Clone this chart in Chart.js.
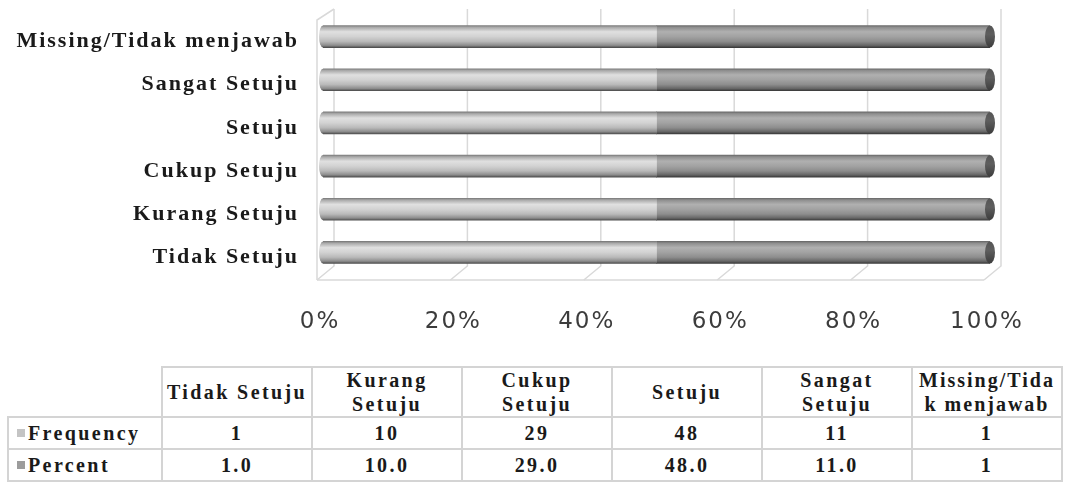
<!DOCTYPE html>
<html>
<head>
<meta charset="utf-8">
<script src="https://cdn.jsdelivr.net/npm/chart.js@4.4.1/dist/chart.umd.min.js"></script>
<style>
  html, body { margin: 0; padding: 0; background: #ffffff; }
  #wrap { position: relative; width: 1065px; height: 485px; overflow: hidden; }
  #c { position: absolute; left: 0; top: 0; }
  #tbl {
    position: absolute; left: 7px; top: 366px;
    border-collapse: collapse; table-layout: fixed;
    font-family: "Liberation Serif", "Times New Roman", serif;
    font-weight: bold; font-size: 20px; letter-spacing: 2.4px; color: #1a1a1a;
  }
  #tbl td { border: 2px solid #d4d4d4; text-align: center; padding: 0 1px; line-height: 24px; white-space: normal; }
  #tbl tr.head td { height: 45px; }
  #tbl tr.row td { height: 30px; }
  #tbl td.corner { border-left-color: transparent; border-top-color: transparent; }
  #tbl td.rowhead { text-align: left; padding-left: 8px; }
  #tbl td.brk { word-break: break-all; letter-spacing: 2px; }
  .key { display: inline-block; width: 8px; height: 8px; margin-right: 3px; vertical-align: 3px; }
</style>
</head>
<body>
<div id="wrap">
  <canvas id="c" width="1065" height="360"></canvas>
  <table id="tbl"></table>
</div>
<script>
// Survey answers and their counts / percentages
const categories = ['Tidak Setuju', 'Kurang Setuju', 'Cukup Setuju', 'Setuju', 'Sangat Setuju', 'Missing/Tidak menjawab'];
const seriesNames = ['Frequency', 'Percent'];
const frequency = [1, 10, 29, 48, 11, 1];
const percent = [1.0, 10.0, 29.0, 48.0, 11.0, 1];
const frequencyText = ['1', '10', '29', '48', '11', '1'];
const percentText = ['1.0', '10.0', '29.0', '48.0', '11.0', '1'];
const xTickLabels = ['0%', '20%', '40%', '60%', '80%', '100%'];

// 100% stacked shares per category
const freqShare = frequency.map((f, i) => f / (f + percent[i]) * 100);
const pctShare = percent.map((p, i) => p / (frequency[i] + percent[i]) * 100);

const BAR = 22;
const lightStops = [[0, '#7c7c7c'], [0.08, '#a9a9a9'], [0.28, '#e0e0e0'], [0.5, '#d2d2d2'], [0.72, '#b9b9b9'], [0.9, '#8c8c8c'], [1, '#4e4e4e']];
const darkStops  = [[0, '#6a6a6a'], [0.08, '#8e8e8e'], [0.28, '#b0b0b0'], [0.5, '#a2a2a2'], [0.72, '#8d8d8d'], [0.9, '#666666'], [1, '#3a3a3a']];
const swatch = ['#c4c4c4', '#9c9c9c'];

// Table under the chart
(function buildTable() {
  const t = document.getElementById('tbl');
  const colgroup = document.createElement('colgroup');
  [154, 150, 150, 150, 150, 150, 150].forEach(w => {
    const c = document.createElement('col'); c.style.width = w + 'px'; colgroup.appendChild(c);
  });
  t.appendChild(colgroup);
  const head = document.createElement('tr'); head.className = 'head';
  const corner = document.createElement('td'); corner.className = 'corner'; head.appendChild(corner);
  categories.forEach(c => {
    const td = document.createElement('td'); td.textContent = c;
    if (c.length > 16) td.className = 'brk';
    head.appendChild(td);
  });
  t.appendChild(head);
  [frequencyText, percentText].forEach((vals, s) => {
    const tr = document.createElement('tr'); tr.className = 'row';
    const th = document.createElement('td'); th.className = 'rowhead';
    const k = document.createElement('span'); k.className = 'key'; k.style.background = swatch[s];
    th.appendChild(k); th.appendChild(document.createTextNode(seriesNames[s]));
    tr.appendChild(th);
    vals.forEach(v => { const td = document.createElement('td'); td.textContent = v; tr.appendChild(td); });
    t.appendChild(tr);
  });
})();

function cylinderFill(stops) {
  return (ctx) => {
    const chart = ctx.chart;
    const ys = chart.scales && chart.scales.y;
    if (!ys || ctx.dataIndex === undefined) return stops[3][1];
    const yc = ys.getPixelForValue(ctx.dataIndex);
    if (!Number.isFinite(yc)) return stops[3][1];
    const g = chart.ctx.createLinearGradient(0, yc - BAR / 2, 0, yc + BAR / 2);
    stops.forEach(([o, c]) => g.addColorStop(o, c));
    return g;
  };
}

// Back wall, floor and side wall of the 3-D plot box
const frame3d = {
  id: 'frame3d',
  beforeDatasetsDraw(chart) {
    const { ctx, scales: { x } } = chart;
    const back = 11, front = -6, topY = 9, backY = 266, frontY = 280, sideTop = 20;
    ctx.save();
    ctx.strokeStyle = '#d9d9d9';
    ctx.lineWidth = 1.5;
    for (let v = 0; v <= 100; v += 20) {
      const px = x.getPixelForValue(v);
      ctx.beginPath();
      ctx.moveTo(px + back, topY);
      ctx.lineTo(px + back, backY);
      ctx.lineTo(px + front, frontY);
      ctx.stroke();
    }
    const x0 = x.getPixelForValue(0), x1 = x.getPixelForValue(100);
    ctx.beginPath();
    ctx.moveTo(x0 + front, frontY);
    ctx.lineTo(x1 + front, frontY);
    ctx.stroke();
    ctx.beginPath();
    ctx.moveTo(x0 + back, topY);
    ctx.lineTo(x0 + front, sideTop);
    ctx.lineTo(x0 + front, frontY);
    ctx.stroke();
    ctx.restore();
  }
};

// Rounded left end and dark right cap of every cylinder
const caps = {
  id: 'caps',
  afterDatasetsDraw(chart) {
    const { ctx } = chart;
    const m0 = chart.getDatasetMeta(0), m1 = chart.getDatasetMeta(1);
    ctx.save();
    m0.data.forEach((el, i) => {
      const p = el.getProps(['x', 'y', 'base', 'height'], true);
      const h = p.height / 2;
      if (![p.y, p.base, h].every(Number.isFinite)) return;
      const g = ctx.createLinearGradient(0, p.y - h, 0, p.y + h);
      lightStops.forEach(([o, c]) => g.addColorStop(o, c));
      ctx.fillStyle = g;
      ctx.beginPath();
      ctx.ellipse(p.base, p.y, 4, h, 0, Math.PI / 2, Math.PI * 1.5);
      ctx.fill();
      const q = m1.data[i].getProps(['x', 'y', 'height'], true);
      const g2 = ctx.createLinearGradient(0, q.y - h, 0, q.y + h);
      g2.addColorStop(0, '#555555');
      g2.addColorStop(0.4, '#5e5e5e');
      g2.addColorStop(1, '#3c3c3c');
      ctx.fillStyle = g2;
      ctx.beginPath();
      ctx.ellipse(q.x, q.y, 5, h, 0, 0, Math.PI * 2);
      ctx.fill();
    });
    ctx.restore();
  }
};

// Category names beside the bars
const categoryText = {
  id: 'categoryText',
  beforeDraw(chart) { chart.ctx.letterSpacing = '2px'; },
  beforeDatasetsDraw(chart) { chart.ctx.letterSpacing = '0px'; },
  afterDraw(chart) {
    const { ctx, scales: { y } } = chart;
    ctx.save();
    ctx.letterSpacing = '2px';
    ctx.font = 'bold 22px "Liberation Serif", serif';
    ctx.fillStyle = '#1a1a1a';
    ctx.textAlign = 'right';
    ctx.textBaseline = 'middle';
    categories.forEach((c, i) => ctx.fillText(c, 299, y.getPixelForValue(i) + 5));
    ctx.restore();
  }
};

new Chart(document.getElementById('c'), {
  type: 'bar',
  data: {
    labels: categories,
    datasets: [
      { label: seriesNames[0], data: freqShare, backgroundColor: cylinderFill(lightStops), barThickness: BAR, borderWidth: 0, borderSkipped: false },
      { label: seriesNames[1], data: pctShare, backgroundColor: cylinderFill(darkStops), barThickness: BAR, borderWidth: 0, borderSkipped: false }
    ]
  },
  options: {
    indexAxis: 'y',
    responsive: false,
    animation: false,
    layout: { padding: { top: 15, right: 75, left: 0, bottom: 0 } },
    plugins: { legend: { display: false }, tooltip: { enabled: false } },
    scales: {
      x: {
        stacked: true, min: 0, max: 100,
        grid: { display: false }, border: { display: false },
        ticks: {
          stepSize: 20, padding: 26, labelOffset: -3,
          color: '#3c3c3c',
          font: { family: '"DejaVu Sans", sans-serif', size: 23, weight: 'normal' },
          callback: (v, i) => xTickLabels[i]
        },
        afterFit(s) { s.height = 86; }
      },
      y: {
        stacked: true, reverse: true,
        grid: { display: false }, border: { display: false },
        ticks: { display: false },
        afterFit(s) { s.width = 323; }
      }
    }
  },
  plugins: [frame3d, caps, categoryText]
});
</script>
</body>
</html>
